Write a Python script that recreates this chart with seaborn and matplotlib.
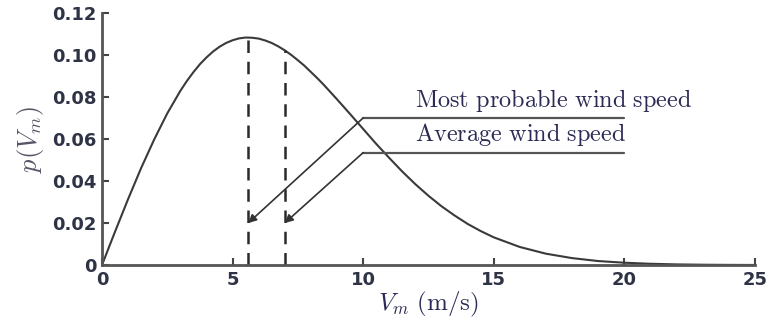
import numpy as np
import pandas as pd
import seaborn as sns
import matplotlib.pyplot as plt

# wind speed (m/s) and probability density
speed = [0, 0.5, 1, 1.5, 2, 2.5, 3, 3.25, 3.5, 3.75, 4, 4.25, 4.5, 4.75, 5,
         5.25, 5.5, 5.75, 6, 6.25, 6.5, 6.75, 7, 7.25, 7.5, 7.75, 8, 8.25, 8.5,
         9, 9.5, 10, 10.5, 11, 11.5, 12, 12.5, 13, 13.5, 14, 14.5, 15, 16, 17,
         18, 19, 20, 21, 22, 23, 24, 25]
density = [0, 0.0159, 0.0314, 0.0462, 0.0598, 0.0722, 0.0829, 0.0876, 0.0918,
           0.0956, 0.0988, 0.1016, 0.1039, 0.1057, 0.1070, 0.1079, 0.1083,
           0.1082, 0.1078, 0.1069, 0.1057, 0.1041, 0.1022, 0.1000, 0.0975,
           0.0949, 0.0919, 0.0889, 0.0857, 0.0789, 0.0719, 0.0648, 0.0577,
           0.0510, 0.0445, 0.0385, 0.0330, 0.0280, 0.0236, 0.0196, 0.0162,
           0.0132, 0.0086, 0.0054, 0.0033, 0.0019, 0.0011, 0.0006, 0.0003,
           0.00015, 0.00007, 0.00003]

# marked speeds: most probable and average
marked_speed = [5.6, 7.0]
marked_top = [0.1083, 0.1022]
labels = ['Most probable wind speed', 'Average wind speed']
label_line_y = [0.070, 0.0535]
label_line_x = [10, 20]
arrow_tip_y = 0.020

sns.set_theme(style='ticks')
plt.rcParams['mathtext.fontset'] = 'cm'
plt.rcParams['font.family'] = ['DejaVu Sans']

df = pd.DataFrame({'speed': speed, 'density': density})

fig = plt.figure(figsize=(7.68, 3.24), dpi=100)
ax = fig.add_axes([0.1328, 0.182, 0.850, 0.778])

sns.lineplot(data=df, x='speed', y='density', color='#3a3a3a', lw=1.5, ax=ax)

ax.vlines(marked_speed, 0, marked_top, colors='#2a2a2a', linestyles=(0, (5, 3.5)), lw=1.8)

for txt, ly, sx in zip(labels, label_line_y, marked_speed):
    ax.plot(label_line_x, [ly, ly], color='#555555', lw=1.6)
    ax.annotate('', xy=(sx, arrow_tip_y), xytext=(label_line_x[0], ly),
                arrowprops=dict(arrowstyle='-|>', color='#333333', lw=1.2,
                                mutation_scale=12, shrinkA=0, shrinkB=0))
    ax.text(12.0, ly + 0.0085, r'$\mathrm{' + txt.replace(' ', r'\ ') + '}$',
            fontsize=17.5, color='#2a2a55', va='center', ha='left')

ax.set_xlim(0, 25)
ax.set_ylim(0, 0.12)
ax.set_xticks([0, 5, 10, 15, 20, 25])
ax.set_yticks([0, 0.02, 0.04, 0.06, 0.08, 0.10, 0.12])
ax.set_yticklabels(['0', '0.02', '0.04', '0.06', '0.08', '0.10', '0.12'])
ax.tick_params(direction='in', length=5, width=1.5, color='#444444',
               labelsize=13, labelcolor='#2f3346', pad=4)
for lab in ax.get_xticklabels() + ax.get_yticklabels():
    lab.set_fontweight('semibold')
for s in ['left', 'bottom']:
    ax.spines[s].set_linewidth(2)
    ax.spines[s].set_color('#555555')
sns.despine(ax=ax)

ax.set_xlabel(r'$V_m\ \mathrm{(m/s)}$', fontsize=18, color='#2a2a55', labelpad=1)
ax.set_ylabel(r'$p(V_m)$', fontsize=19, color='#555566', labelpad=4)

fig.savefig('out.png', dpi=100)
